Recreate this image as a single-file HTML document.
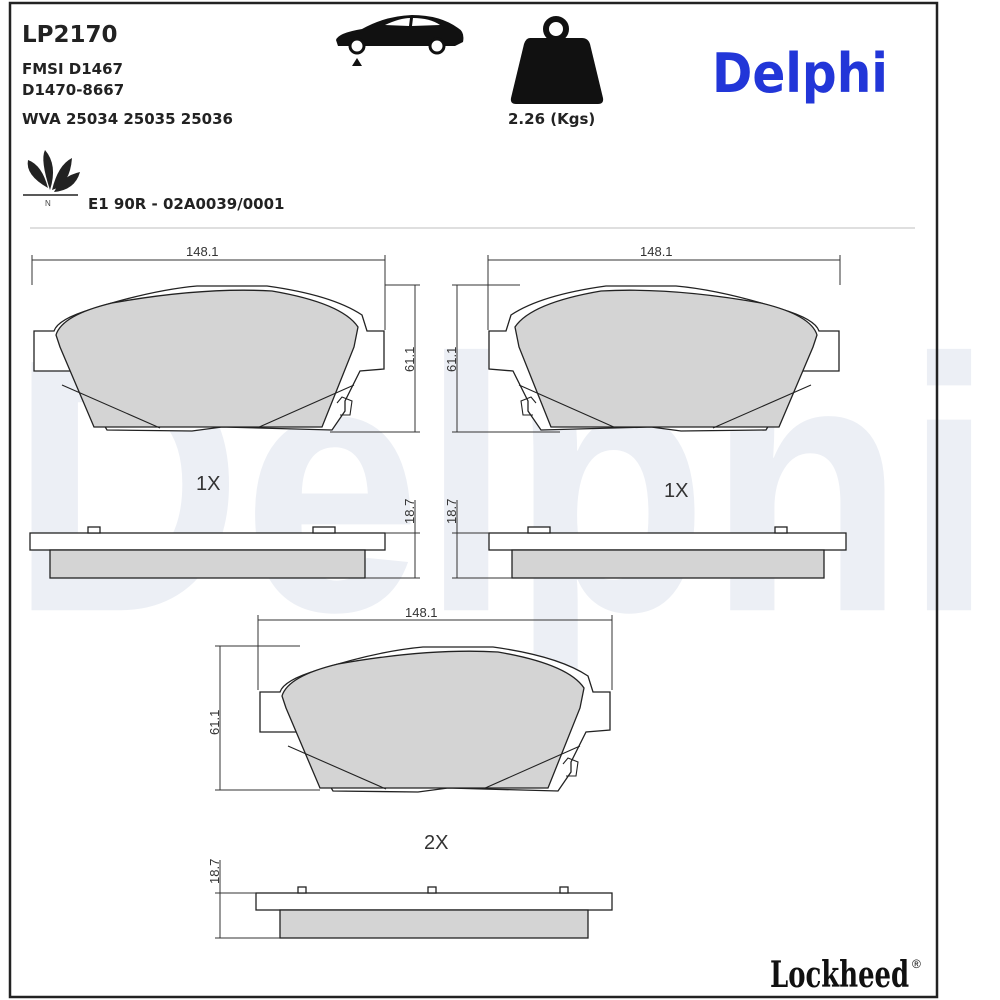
<!DOCTYPE html>
<html><head><meta charset="utf-8"><style>
html,body{margin:0;padding:0;background:#fff;}
body{width:1000px;height:1000px;position:relative;overflow:hidden;font-family:"Liberation Sans","DejaVu Sans",sans-serif;}
svg{position:absolute;left:0;top:0;}
</style></head><body>
<svg width="1000" height="1000" viewBox="0 0 1000 1000" xmlns="http://www.w3.org/2000/svg">
<defs>
<g id="pad">
  <path d="M2,46 L22,46 Q26,34 60,24 Q120,5 165,1 L235,1 Q300,10 330,30 L335,46 L352,46 L352,84 L328,86 L313,116 L313,126 L300,145 L190,142 L160,146 L75,145 L60,120 L45,86 L2,86 Z" fill="#fff" stroke="#222" stroke-width="1.3"/>
  <path d="M24,50 Q30,30 80,18 Q170,2 240,6 Q310,18 326,42 L322,62 L290,142 L62,142 L28,62 Z" fill="#d4d4d4" stroke="#222" stroke-width="1.3"/>
  <path d="M30,100 L128,143 M322,100 L225,143" stroke="#222" stroke-width="1.1" fill="none"/>
  <path d="M305,118 L310,112 L320,116 L318,130 L308,130" fill="none" stroke="#222" stroke-width="1.1"/>
</g>
</defs>
<!-- watermark -->
<text x="10" y="610" font-family="Liberation Sans" font-weight="bold" font-size="322" fill="#eceff5" transform="translate(0,-73) scale(1,1.12)">Delphi</text>
<!-- frame -->
<rect x="10" y="3" width="927" height="994" fill="none" stroke="#222" stroke-width="2.5"/>
<line x1="30" y1="228" x2="915" y2="228" stroke="#ccc" stroke-width="1.2"/>
<!-- header text -->
<g font-family="DejaVu Sans" font-weight="bold" fill="#222">
<text x="22" y="42" font-size="23">LP2170</text>
<text x="22" y="74" font-size="15">FMSI D1467</text>
<text x="22" y="95" font-size="15">D1470-8667</text>
<text x="22" y="124" font-size="15">WVA 25034 25035 25036</text>
<text x="88" y="209" font-size="15">E1 90R - 02A0039/0001</text>
<text x="508" y="124" font-size="15">2.26 (Kgs)</text>
</g>
<text x="712" y="92" font-family="DejaVu Sans" font-weight="bold" font-size="54" fill="#2236d8" transform="translate(712,92) scale(0.9,1) translate(-712,-92)">Delphi</text>
<text x="770" y="987" font-family="DejaVu Serif" font-weight="bold" font-size="36" fill="#111" transform="translate(770,987) scale(0.72,1) translate(-770,-987)">Lockheed</text>
<text x="912" y="968" font-family="Liberation Sans" font-size="12" fill="#111">®</text>
<!-- leaf icon -->
<g fill="#222">
<path d="M48,188 Q25,175 28,160 Q42,165 48,188 Z"/>
<path d="M50,190 Q40,160 45,150 Q58,165 50,190 Z"/>
<path d="M52,190 Q70,185 72,158 Q58,165 52,190 Z"/>
<path d="M54,192 Q75,190 80,172 Q62,176 54,192Z"/>
</g>
<line x1="23" y1="195" x2="78" y2="195" stroke="#222" stroke-width="1.5"/>
<text x="45" y="206" font-size="8" fill="#444">N</text>
<!-- car -->
<path d="M336,40 Q338,33 362,29 Q385,16 412,15 Q440,15 458,28 Q465,32 463,42 L455,46 L338,46 Z" fill="#111"/>
<circle cx="357" cy="46" r="7" fill="#fff" stroke="#111" stroke-width="3"/>
<circle cx="437" cy="46" r="7" fill="#fff" stroke="#111" stroke-width="3"/>
<path d="M385,25 Q400,18 410,18 L409,26 Z M413,18 Q430,18 440,25 L412,26 Z" fill="#fff"/>
<path d="M352,66 L357,58 L362,66 Z" fill="#111"/>
<!-- weight -->
<circle cx="556" cy="29" r="10" fill="none" stroke="#111" stroke-width="6"/>
<path d="M530,38 L582,38 Q588,38 590,44 L603,98 Q604,104 598,104 L516,104 Q510,104 511,98 L524,44 Q526,38 530,38 Z" fill="#111"/>
<!-- pads -->
<use href="#pad" transform="translate(32,285)"/>
<use href="#pad" transform="translate(841,285) scale(-1,1)"/>
<use href="#pad" transform="translate(258,646)"/>
<!-- side views -->
<g fill="#fff" stroke="#222" stroke-width="1.3">
<rect x="30" y="533" width="355" height="17"/>
<rect x="50" y="550" width="315" height="28" fill="#d4d4d4"/>
<rect x="489" y="533" width="357" height="17"/>
<rect x="512" y="550" width="312" height="28" fill="#d4d4d4"/>
<rect x="256" y="893" width="356" height="17"/>
<rect x="280" y="910" width="308" height="28" fill="#d4d4d4"/>
<rect x="88" y="527" width="12" height="6"/><rect x="313" y="527" width="22" height="6"/>
<rect x="528" y="527" width="22" height="6"/><rect x="775" y="527" width="12" height="6"/>
<rect x="298" y="887" width="8" height="6"/><rect x="428" y="887" width="8" height="6"/><rect x="560" y="887" width="8" height="6"/>
</g>
<!-- dimensions -->
<g stroke="#333" stroke-width="1" fill="none">
<path d="M32,255 V285 M385,255 V330 M32,260 H385"/>
<path d="M488,255 V330 M840,255 V285 M488,260 H840"/>
<path d="M258,615 V690 M612,615 V690 M258,620 H612"/>
<path d="M385,285 H420 M330,432 H420 M415,285 V432"/>
<path d="M452,285 H520 M452,432 H560 M457,285 V432"/>
<path d="M215,646 H300 M215,790 H320 M220,646 V790"/>
<path d="M385,533 H420 M365,578 H420 M415,500 V578"/>
<path d="M452,533 H489 M452,578 H512 M457,500 V578"/>
<path d="M215,893 H256 M215,938 H280 M220,860 V938"/>
</g>
<g font-family="Liberation Sans" font-size="13" fill="#333">
<text x="186" y="256">148.1</text>
<text x="640" y="256">148.1</text>
<text x="405" y="617">148.1</text>
<text transform="translate(414,372) rotate(-90)">61.1</text>
<text transform="translate(456,372) rotate(-90)">61.1</text>
<text transform="translate(219,735) rotate(-90)">61.1</text>
<text transform="translate(414,524) rotate(-90)">18.7</text>
<text transform="translate(456,524) rotate(-90)">18.7</text>
<text transform="translate(219,884) rotate(-90)">18.7</text>
<text x="196" y="490" font-size="20">1X</text>
<text x="664" y="497" font-size="20">1X</text>
<text x="424" y="849" font-size="20">2X</text>
</g>
</svg>
</body></html>
